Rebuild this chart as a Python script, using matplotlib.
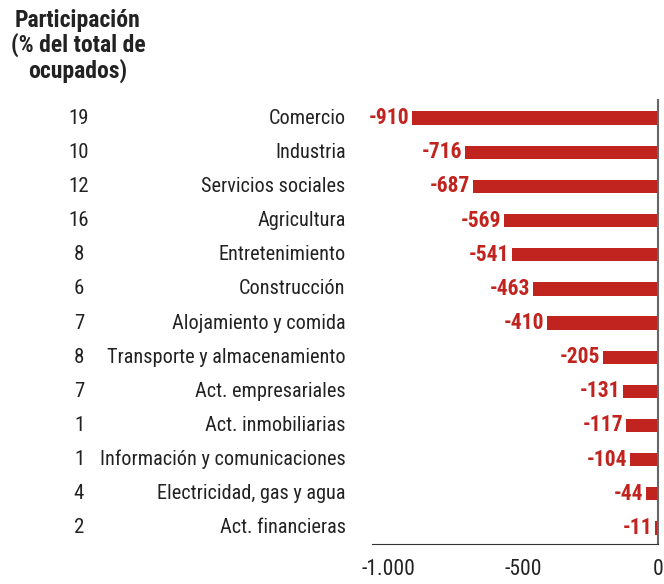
import matplotlib
matplotlib.use('Agg')
import matplotlib.pyplot as plt
import matplotlib.transforms as mtransforms

plt.rcParams['font.family'] = ['Liberation Sans Narrow', 'Roboto Condensed',
                               'Liberation Sans', 'DejaVu Sans']

# datos
sectores = ['Comercio', 'Industria', 'Servicios sociales', 'Agricultura',
            'Entretenimiento', 'Construcción', 'Alojamiento y comida',
            'Transporte y almacenamiento', 'Act. empresariales',
            'Act. inmobiliarias', 'Información y comunicaciones',
            'Electricidad, gas y agua', 'Act. financieras']
variacion = [-910, -716, -687, -569, -541, -463, -410, -205, -131, -117, -104, -44, -11]
participacion = [19, 10, 12, 16, 8, 6, 7, 8, 7, 1, 1, 4, 2]
xticks = [-1000, -500, 0]
xtick_labels = ['-1.000', '-500', '0']

rojo = '#c1231f'
texto = '#222222'

W, H = 664, 584
fig = plt.figure(figsize=(W / 100, H / 100), dpi=100)
ax = fig.add_axes([372 / W, 1 - 544 / H, (658 - 372) / W, (544 - 100) / H])

y = list(range(len(sectores)))
ax.barh(y, variacion, height=0.39, color=rojo)

for yi, v in zip(y, variacion):
    ax.annotate(str(v), (v, yi), xytext=(-2, 0), textcoords='offset points',
                ha='right', va='center', color=rojo, fontsize=15.5, fontweight='bold')

ax.set_xlim(-1060, 0)
ax.set_ylim(len(sectores) - 0.53, -0.53)

ax.set_yticks(y)
ax.set_yticklabels(sectores, fontsize=14.6, color=texto, va='center')
ax.tick_params(axis='y', length=0, pad=19)
ax.set_xticks(xticks)
ax.set_xticklabels(xtick_labels, fontsize=15.5, color=texto)
ax.tick_params(axis='x', length=0, pad=11)

for s in ['top', 'left']:
    ax.spines[s].set_visible(False)
ax.spines['bottom'].set_color('#333333')
ax.spines['right'].set_color('#666666')
ax.spines['right'].set_linewidth(1.5)

# columna de participación
trans = mtransforms.blended_transform_factory(fig.transFigure, ax.transData)
for yi, p in zip(y, participacion):
    ax.text(79 / W, yi, str(p), transform=trans, ha='center', va='center',
            fontsize=15, color=texto)

fig.text(78 / W, 1 - 9 / H, 'Participación\n(% del total de\nocupados)',
         ha='center', va='top', fontsize=17, fontweight='bold', color=texto,
         linespacing=1.05)

fig.savefig('out.png', dpi=100)
